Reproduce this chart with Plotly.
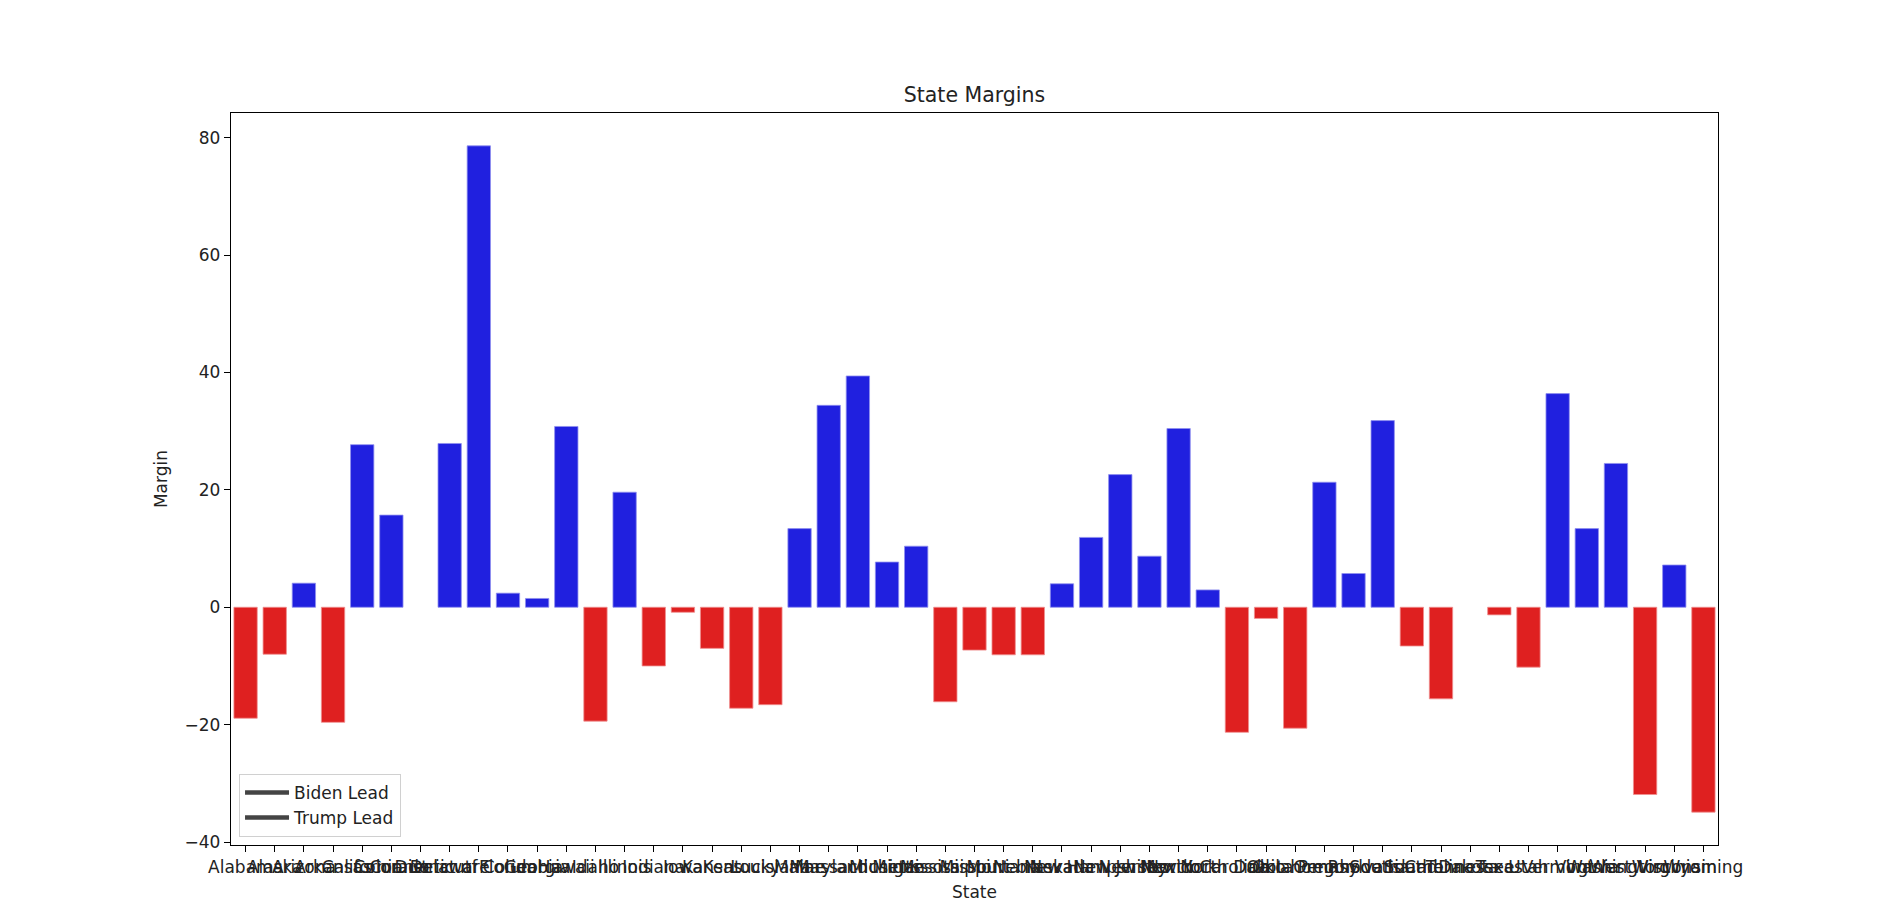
import plotly.graph_objects as go

# estados e margens (Biden - Trump)
states = ['Alabama', 'Alaska', 'Arizona', 'Arkansas', 'California', 'Colorado', 'Connecticut',
          'Delaware', 'District of Columbia', 'Florida', 'Georgia', 'Hawaii', 'Idaho', 'Illinois',
          'Indiana', 'Iowa', 'Kansas', 'Kentucky', 'Louisiana', 'Maine', 'Maryland', 'Massachusetts',
          'Michigan', 'Minnesota', 'Mississippi', 'Missouri', 'Montana', 'Nebraska', 'Nevada',
          'New Hampshire', 'New Jersey', 'New Mexico', 'New York', 'North Carolina', 'North Dakota',
          'Ohio', 'Oklahoma', 'Oregon', 'Pennsylvania', 'Rhode Island', 'South Carolina',
          'South Dakota', 'Tennessee', 'Texas', 'Utah', 'Vermont', 'Virginia', 'Washington',
          'West Virginia', 'Wisconsin', 'Wyoming']
margins = [-18.9, -8.0, 4.1, -19.6, 27.7, 15.7, None,
           27.9, 78.6, 2.4, 1.5, 30.8, -19.4, 19.6,
           -10.0, -0.85, -7.0, -17.2, -16.6, 13.4, 34.4, 39.4,
           7.7, 10.4, -16.1, -7.3, -8.1, -8.1, 4.0,
           11.9, 22.6, 8.7, 30.45, 2.95, -21.3,
           -1.9, -20.6, 21.3, 5.75, 31.8, -6.6,
           -15.6, None, -1.3, -10.2, 36.4, 13.4, 24.5,
           -31.9, 7.2, -34.9]
legend_names = ['Biden Lead', 'Trump Lead']
y_ticks = [-40, -20, 0, 20, 40, 60, 80]

BLUE = '#2020df'
RED = '#df2020'
colors = [BLUE if (m is not None and m > 0) else RED for m in margins]
edges = ['#8f8fef' if c == BLUE else '#ef8f8f' for c in colors]

fig = go.Figure()
fig.add_trace(go.Bar(x=states, y=margins, marker=dict(color=colors, line=dict(color=edges, width=0.8)),
                     width=0.8, showlegend=False, hoverinfo='x+y'))

# legenda (linhas cinza, como no original)
for nome in legend_names:
    fig.add_trace(go.Scatter(x=[None], y=[None], mode='lines', name=nome,
                             line=dict(color='#444444', width=4.5)))

# a página tem 8px de margem no body, por isso tudo vai 8px para cima/esquerda
fig.update_layout(
    width=1895, height=903,
    margin=dict(l=223, r=185, t=105, b=66),
    plot_bgcolor='white', paper_bgcolor='white',
    font=dict(family='DejaVu Sans', size=17, color='#222222'),
    title=dict(text='State Margins', x=0.5, xref='paper', y=1 - 87 / 903, yanchor='middle',
               font=dict(size=20.5, color='#222222')),
    bargap=0.2,
    legend=dict(x=0.0054, y=0.011, xanchor='left', yanchor='bottom', bgcolor='rgba(255,255,255,0.8)',
                bordercolor='#d0d0d0', borderwidth=1, font=dict(size=17), tracegroupgap=0,
                itemwidth=44),
)
fig.update_xaxes(title=dict(text='State', standoff=10, font=dict(size=17)), type='category',
                 range=[-0.5, len(states) - 0.5], tickangle=0, tickmode='array', tickvals=states,
                 ticks='outside', ticklen=6, tickwidth=1.3, tickcolor='black', showline=True,
                 linecolor='black', linewidth=1.4, mirror=True, showgrid=False, tickfont=dict(size=17))
fig.update_yaxes(title=dict(text='Margin', standoff=12, font=dict(size=17)), range=[-40.5, 84.2],
                 tickvals=y_ticks, ticks='outside', ticklen=6, tickwidth=1.3, tickcolor='black',
                 showline=True, linecolor='black', linewidth=1.4, mirror=True, showgrid=False,
                 zeroline=False, tickfont=dict(size=17))

fig.write_html("out.html")
